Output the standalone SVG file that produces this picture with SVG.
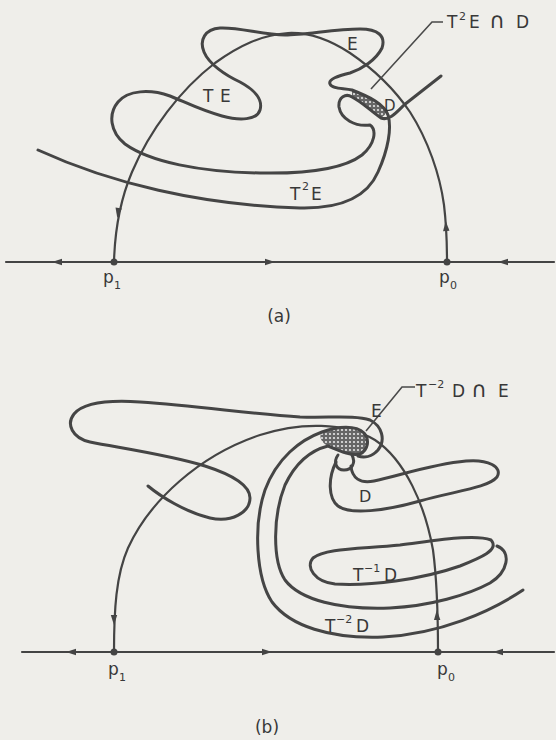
<svg xmlns="http://www.w3.org/2000/svg" width="556" height="740" viewBox="0 0 556 740">
<defs>
<style>
.ln{fill:none;stroke:#444;stroke-width:2.2;stroke-linecap:round;stroke-linejoin:round}
.w{fill:none;stroke:#454545;stroke-width:3;stroke-linecap:round;stroke-linejoin:round}
.ld{fill:none;stroke:#4a4a4a;stroke-width:1.6}
.t{font-family:"DejaVu Sans",sans-serif;font-size:17px;fill:#383838}
.s{font-size:11px}
.cap{font-size:22px}
.pt{fill:#444}
.sh{fill:url(#hatch);stroke:none}
</style>
<pattern id="hatch" width="4" height="4" patternUnits="userSpaceOnUse">
<rect width="4" height="4" fill="#666"/>
<circle cx="2" cy="2" r="1.1" fill="#e6e6e6"/>
</pattern>
<path id="ah" d="M5,0 L-5,-3.2 L-5,3.2 Z" fill="#444"/>
</defs>
<rect width="556" height="740" fill="#efeeea"/>

<g id="panel-a">
  <g id="a-connectors">
    <path id="a-axis" class="ln" d="M6,262 L554,262"/>
    <path id="a-arc" class="ln" d="M114,262 C115,225 121,198 132,172 C150,130 180,90 215,63 C240,45 262,35 288,33 C310,32 330,40 350,53 C375,70 395,90 410,112 C428,140 440,175 444,205 C447,230 447,250 447,262"/>
    <use href="#ah" transform="translate(57,262) rotate(180)"/>
    <use href="#ah" transform="translate(270,262)"/>
    <use href="#ah" transform="translate(503,262) rotate(180)"/>
    <use href="#ah" transform="translate(118,213) rotate(98)"/>
    <use href="#ah" transform="translate(446,226) rotate(-93)"/>
  </g>
  <g id="a-manifold">
    <path id="a-shade" class="sh" d="M352,90 C370,97 384,105 387,113 L381,118 C372,112 362,101 352,97 Z"/>
    <path class="w" d="M38,150 C110,183 200,205 300,208 C345,209 368,195 378,172 C388,150 392,128 388,115 C384,104 370,97 352,90 C342,88 332,89 330,84 C328,79 338,76 350,73 C362,69 376,60 382,48 C386,36 378,29 360,29 C335,29 305,35 285,35 C262,35 240,27 220,28 C205,29 199,40 204,52 C209,64 225,75 240,82 C255,90 263,100 260,110 C257,120 240,121 222,116 C200,110 185,102 170,96 C150,89 128,90 118,102 C108,114 110,132 125,144 C150,162 200,172 260,173 C310,174 345,168 362,155 C375,144 377,130 370,125 C355,127 341,119 339,107 C338,97 346,93 352,97 C362,102 372,112 381,118 C389,121 396,113 404,105 L441,76"/>
    <path class="ld" d="M443,22 L432,22 L371,89"/>
  </g>
  <g id="a-points">
    <circle class="pt" cx="114" cy="262" r="3.5"/>
    <circle class="pt" cx="447" cy="262" r="3.5"/>
  </g>
  <g id="a-labels">
    <text class="t" y="28"><tspan x="447">T</tspan><tspan class="s" x="459" y="20">2</tspan><tspan x="469" y="28">E</tspan><tspan class="cap" x="489">∩</tspan><tspan x="516">D</tspan></text>
    <text class="t" x="347" y="50">E</text>
    <text class="t" y="102"><tspan x="203">T</tspan><tspan x="220">E</tspan></text>
    <text class="t" x="384" y="111" style="font-size:15px">D</text>
    <text class="t" y="200"><tspan x="290">T</tspan><tspan class="s" x="302" y="190">2</tspan><tspan x="311" y="200">E</tspan></text>
    <text class="t" y="283"><tspan x="103">p</tspan><tspan class="s" x="114" y="289">1</tspan></text>
    <text class="t" y="283"><tspan x="439">p</tspan><tspan class="s" x="450" y="289">0</tspan></text>
    <text class="t" x="279" y="322" text-anchor="middle">(a)</text>
  </g>
</g>

<g id="panel-b">
  <g id="b-connectors">
    <path id="b-axis" class="ln" d="M22,652 L554,652"/>
    <path id="b-arc" class="ln" d="M114,652 C114,610 116,575 128,548 C150,500 200,455 260,435 C300,422 345,422 375,440 C405,460 425,505 433,550 C437,580 438,620 438,652"/>
    <use href="#ah" transform="translate(71,652) rotate(180)"/>
    <use href="#ah" transform="translate(267,652)"/>
    <use href="#ah" transform="translate(498,652) rotate(180)"/>
    <use href="#ah" transform="translate(114,620) rotate(90)"/>
    <use href="#ah" transform="translate(437,615) rotate(-92)"/>
  </g>
  <g id="b-manifold">
    <path id="b-shade" class="sh" d="M322,432 C338,426 356,425 364,433 C370,440 368,450 360,454 C350,456 338,450 328,446 C322,443 318,437 322,432 Z"/>
    <path class="w" d="M148,486 C160,496 185,512 210,518 C232,523 250,512 250,498 C250,484 230,474 205,466 C170,455 120,448 90,442 C72,438 66,424 74,414 C84,402 110,400 140,402 C200,406 250,414 300,417 C330,418 355,415 370,420 C382,426 386,440 378,450 C372,457 364,458 358,456"/>
    <path class="w" d="M523,590 C490,612 440,634 383,637 C330,639 290,626 272,602 C256,578 253,525 265,490 C277,458 300,440 322,432 C338,426 356,425 364,433 C370,440 368,450 360,454 C350,456 338,450 328,446 C312,450 296,462 285,485 C273,515 272,560 285,580 C300,600 340,610 390,608 C430,606 468,595 490,583 C508,572 512,552 497,546"/>
    <path class="w" d="M491,540 C475,534 440,540 400,545 C360,549 325,548 313,558 C305,567 315,582 335,584 C370,586 420,580 460,566 C480,558 500,550 491,540 Z"/>
    <path class="w" d="M352,455 C356,463 352,470 344,470 C336,470 333,462 338,455"/>
    <path class="w" d="M336,462 C328,478 328,498 338,506 C350,515 385,511 420,501 C455,491 488,488 497,477 C503,467 488,459 466,461 C432,464 398,476 374,481 C360,484 352,478 351,466"/>
    <path class="ld" d="M415,387 L402,387 L366,431"/>
  </g>
  <g id="b-points">
    <circle class="pt" cx="114" cy="652" r="3.5"/>
    <circle class="pt" cx="438" cy="652" r="3.5"/>
  </g>
  <g id="b-labels">
    <text class="t" y="397"><tspan x="416">T</tspan><tspan class="s" x="428" y="388">−2</tspan><tspan x="452" y="397">D</tspan><tspan class="cap" x="471">∩</tspan><tspan x="498">E</tspan></text>
    <text class="t" x="371" y="417">E</text>
    <text class="t" x="359" y="502" style="font-size:16px">D</text>
    <text class="t" y="581"><tspan x="353">T</tspan><tspan class="s" x="364" y="572">−1</tspan><tspan x="384" y="581">D</tspan></text>
    <text class="t" y="632"><tspan x="325">T</tspan><tspan class="s" x="336" y="623">−2</tspan><tspan x="356" y="632">D</tspan></text>
    <text class="t" y="675"><tspan x="108">p</tspan><tspan class="s" x="119" y="681">1</tspan></text>
    <text class="t" y="675"><tspan x="437">p</tspan><tspan class="s" x="448" y="681">0</tspan></text>
    <text class="t" x="267" y="733" text-anchor="middle">(b)</text>
  </g>
</g>
</svg>
